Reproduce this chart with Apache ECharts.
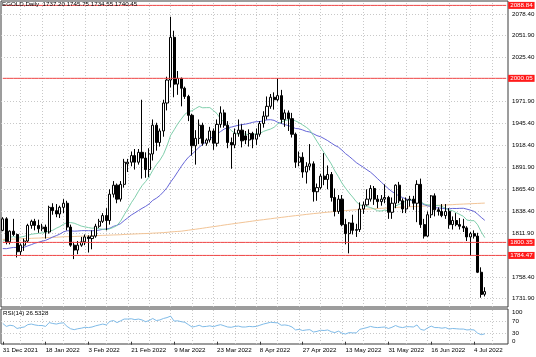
<!DOCTYPE html>
<html><head><meta charset="utf-8">
<script src="https://cdn.jsdelivr.net/npm/echarts@6/dist/echarts.min.js"></script>
<style>html,body{margin:0;padding:0;background:#fff}#c{width:536px;height:357px}</style>
</head><body><div id="c"></div>
<script>
const chartTitle = 'EGOLD,Daily  1737.20 1745.75 1734.55 1740.45';
const rsiTitle = 'RSI(14) 26.5328';
const tickLabels = ['31 Dec 2021','18 Jan 2022','3 Feb 2022','21 Feb 2022','9 Mar 2022','23 Mar 2022','8 Apr 2022','27 Apr 2022','13 May 2022','31 May 2022','16 Jun 2022','4 Jul 2022'];
const labelBars = [0,12,24,36,48,60,72,84,96,108,120,132];
const gridBars = [5,11,17,23,29,35,41,47,53,59,65,71,77,83,89,95,101,107,113,119,125,131,137];
const priceTicks = [2078.40,2051.90,2025.40,1971.90,1945.40,1918.40,1891.90,1865.40,1838.40,1811.90,1758.40,1731.90];
const priceLabels = [2078.40,2051.90,2025.40,1971.90,1945.40,1918.40,1891.90,1865.40,1838.40,1811.90,1758.40,1731.90];
const levelLines = [2088.84,2000.05,1800.35,1784.47];
const lastPrice = 1740.45;
const rsiLabels = [0,30,70,100];
const rsiLevels = [30,70];

const opens = [
1815,1829,1801,1814,1810,1789,1797,1802,1821,1826,
1821,1817,1819,1813,1843,1839,1835,1843,1848,1819,
1797,1791,1797,1801,1807,1805,1808,1820,1826,1833,
1827,1859,1870,1853,1871,1896,1898,1906,1898,1910,
1903,1889,1908,1943,1922,1936,1970,1998,2050,1993,
2000,1988,1978,1955,1918,1927,1943,1921,1925,1936,
1921,1944,1958,1943,1922,1919,1933,1937,1930,1925,
1933,1926,1932,1945,1954,1966,1977,1974,1979,1950,
1958,1951,1932,1898,1904,1886,1893,1896,1862,1867,
1881,1877,1883,1855,1838,1853,1822,1811,1824,1815,
1816,1841,1846,1853,1866,1853,1850,1853,1855,1837,
1848,1870,1851,1841,1852,1853,1848,1871,1822,1808,
1834,1857,1840,1838,1833,1838,1822,1827,1822,1820,
1818,1807,1811,1808,1764,1737.20];
const highs = [
1831,1831,1815,1829,1811,1799,1805,1823,1828,1829,
1828,1823,1822,1845,1848,1847,1845,1853,1851,1822,
1801,1802,1807,1810,1809,1815,1823,1829,1836,1842,
1865,1875,1872,1875,1902,1902,1911,1914,1914,1974,
1910,1915,1950,1946,1939,1974,2002,2075,2058,2009,
2001,1990,1980,1957,1937,1950,1946,1927,1941,1939,
1950,1966,1962,1948,1928,1939,1950,1944,1936,1938,
1935,1939,1948,1960,1978,1981,1983,2000,1986,1962,
1961,1958,1934,1911,1910,1898,1920,1899,1872,1884,
1909,1894,1886,1866,1858,1858,1829,1825,1834,1823,
1849,1850,1865,1870,1869,1858,1858,1871,1857,1855,
1871,1874,1854,1855,1857,1857,1876,1878,1829,1838,
1858,1860,1843,1847,1847,1842,1832,1836,1830,1829,
1820,1813,1815,1812,1770,1745.75];
const lows = [
1814,1798,1798,1808,1782,1785,1790,1800,1817,1815,
1812,1814,1805,1811,1834,1831,1830,1836,1815,1795,
1780,1786,1795,1797,1788,1792,1806,1818,1824,1815,
1822,1855,1848,1850,1867,1886,1893,1889,1895,1878,
1879,1880,1900,1912,1917,1929,1961,1989,1977,1980,
1966,1975,1948,1906,1895,1920,1918,1918,1922,1913,
1917,1940,1940,1915,1890,1915,1929,1916,1920,1917,
1915,1919,1929,1940,1950,1963,1962,1972,1945,1941,
1936,1928,1891,1893,1879,1872,1888,1850,1851,1865,
1870,1865,1850,1832,1835,1820,1798,1787,1810,1807,
1813,1835,1845,1850,1846,1842,1845,1848,1829,1829,
1842,1848,1836,1836,1844,1840,1825,1818,1805,1807,
1830,1832,1833,1831,1829,1817,1816,1820,1816,1813,
1802,1784,1805,1763,1733,1734.55];
const closes = [
1829,1801,1814,1810,1789,1797,1802,1821,1826,1821,
1817,1819,1813,1843,1839,1835,1843,1848,1819,1797,
1791,1797,1801,1807,1805,1808,1820,1826,1833,1827,
1859,1870,1853,1871,1898,1898,1906,1898,1910,1903,
1889,1908,1943,1922,1936,1970,1998,2050,1993,2000,
1988,1978,1955,1918,1927,1943,1921,1925,1936,1921,
1944,1958,1943,1922,1919,1933,1937,1924,1925,1933,
1926,1932,1945,1954,1966,1977,1974,1979,1950,1958,
1951,1932,1898,1904,1886,1893,1896,1862,1867,1881,
1877,1883,1855,1838,1853,1822,1811,1824,1815,1816,
1841,1846,1853,1866,1853,1850,1853,1855,1837,1848,
1870,1851,1841,1852,1853,1848,1871,1822,1808,1834,
1857,1840,1838,1833,1838,1822,1827,1822,1820,1818,
1807,1811,1808,1764,1737,1740.45];

const maFast = [
1801.8,1804.0,1806.6,1807.4,1806.4,1806.8,1807.7,1809.0,1810.2,1810.9,
1811.3,1811.9,1812.4,1814.4,1815.1,1817.6,1819.6,1822.4,1824.5,1824.5,
1823.7,1822.0,1820.2,1819.2,1818.4,1817.6,1818.1,1816.9,1816.4,1815.9,
1817.0,1818.6,1821.0,1826.3,1833.9,1841.1,1848.6,1855.1,1862.6,1869.4,
1874.4,1880.2,1888.1,1894.9,1900.4,1907.5,1917.9,1930.6,1937.4,1944.7,
1950.6,1956.3,1959.5,1960.6,1963.3,1965.8,1964.2,1964.4,1964.4,1960.9,
1957.1,1950.5,1946.9,1941.4,1936.4,1933.2,1931.9,1932.4,1932.2,1931.5,
1931.9,1932.4,1933.0,1935.4,1937.0,1938.3,1940.5,1944.6,1946.8,1948.6,
1949.6,1950.1,1948.2,1946.1,1943.3,1940.5,1937.0,1930.4,1923.4,1916.5,
1909.6,1902.7,1895.9,1887.4,1880.4,1872.5,1866.3,1860.6,1855.5,1849.9,
1846.0,1844.9,1843.9,1842.8,1841.1,1838.7,1838.6,1839.8,1838.6,1840.5,
1844.7,1846.6,1848.5,1851.1,1852.0,1852.1,1853.4,1850.3,1847.1,1845.9,
1846.2,1845.1,1845.2,1844.1,1841.9,1839.8,1838.8,1836.6,1834.3,1832.1,
1827.6,1826.8,1826.8,1821.8,1813.2,1806.1];
const maMid = [
1792.8,1792.7,1793.5,1794.2,1794.1,1794.0,1794.5,1796.1,1797.6,1799.4,
1800.5,1801.8,1802.8,1804.8,1806.9,1808.6,1810.5,1813.1,1814.5,1814.4,
1814.0,1814.2,1814.6,1814.7,1814.6,1814.5,1814.8,1815.3,1816.2,1816.6,
1817.6,1819.9,1821.2,1823.2,1826.9,1830.2,1833.7,1836.3,1839.1,1841.8,
1844.2,1847.2,1851.5,1854.1,1857.4,1861.9,1867.0,1873.8,1879.6,1886.3,
1892.9,1898.9,1904.1,1907.8,1911.8,1916.3,1919.7,1923.0,1926.4,1929.6,
1932.4,1935.3,1938.3,1940.0,1940.7,1941.9,1942.9,1943.8,1944.3,1945.3,
1946.5,1947.3,1947.4,1948.5,1949.5,1949.7,1948.9,1946.5,1945.1,1943.7,
1942.5,1940.9,1939.0,1938.6,1937.2,1935.5,1934.7,1932.6,1930.3,1929.0,
1926.7,1924.2,1921.3,1918.5,1916.3,1912.6,1908.4,1905.1,1901.4,1897.5,
1894.6,1891.8,1888.7,1885.8,1882.0,1877.8,1873.7,1869.6,1865.8,1862.2,
1859.5,1856.8,1854.9,1853.1,1852.0,1850.5,1849.7,1848.4,1846.4,1844.8,
1844.2,1842.7,1842.2,1842.0,1841.2,1841.2,1841.7,1841.6,1841.8,1841.9,
1840.8,1839.6,1838.1,1834.7,1830.8,1827.2];
const maSlow = [
1804.0,1804.1,1804.3,1804.4,1804.5,1804.7,1804.9,1805.0,1805.3,1805.5,
1805.6,1805.8,1806.0,1806.3,1806.5,1806.6,1806.9,1807.2,1807.3,1807.4,
1807.5,1807.7,1807.9,1808.1,1808.3,1808.4,1808.6,1808.7,1808.9,1809.0,
1809.2,1809.4,1809.5,1809.7,1810.0,1810.2,1810.4,1810.6,1810.8,1811.0,
1811.1,1811.3,1811.6,1811.8,1812.0,1812.3,1812.6,1813.0,1813.4,1813.7,
1814.0,1814.6,1815.2,1815.8,1816.4,1817.0,1817.6,1818.3,1818.9,1819.5,
1820.1,1820.8,1821.5,1822.1,1822.7,1823.3,1823.9,1824.5,1825.1,1825.7,
1826.3,1826.9,1827.5,1828.0,1828.6,1829.1,1829.7,1830.2,1830.8,1831.3,
1831.9,1832.4,1832.9,1833.4,1833.9,1834.4,1834.9,1835.4,1835.8,1836.3,
1836.7,1837.1,1837.5,1837.9,1838.3,1838.7,1839.1,1839.4,1839.8,1840.1,
1840.3,1840.6,1840.8,1841.1,1841.3,1841.6,1841.8,1842.1,1842.3,1842.6,
1842.8,1843.1,1843.3,1843.5,1843.8,1844.0,1844.2,1844.4,1844.6,1844.9,
1845.1,1845.3,1845.5,1845.7,1845.9,1846.1,1846.3,1846.6,1846.8,1847.0,
1847.2,1847.4,1847.6,1847.8,1848.0,1848.2];
const rsi = [
62,52,56,54,45,48,50,58,60,57,
55,55,52,65,62,60,63,64,52,44,
41,44,46,49,48,50,54,57,60,57,
69,72,65,71,77,77,78,75,77,74,
68,72,79,72,74,79,82,87,70,71,
68,66,58,50,52,56,51,52,54,51,
55,58,54,50,49,52,53,50,50,52,
51,52,56,60,63,66,65,64,56,57,
55,50,40,42,38,40,41,33,35,39,
38,40,34,31,36,29,26,31,30,30,
42,45,48,52,49,48,49,50,45,49,
55,50,48,51,51,50,57,42,39,47,
53,48,48,46,48,43,45,44,43,43,
40,41,40,29,24,26.53];

const slotCount = 142;
const categories = [];
for (let i = 0; i < slotCount; i++) categories.push(String(i));
const candles = opens.map((o, i) => [o, closes[i], lows[i], highs[i]]);

const FONT = 'Liberation Sans';
const FS = 6.2;
const gridStyle = { color: '#c8c8c8', width: 1, type: [1, 2] };
const isLabelBar = (idx) => labelBars.indexOf(idx) >= 0;
const boxLabel = (bg) => ({ show: true, position: 'end', distance: 1,
  formatter: (p) => Number(p.value).toFixed(2),
  backgroundColor: bg, color: '#fff', padding: [1, 2, 0, 2], fontFamily: FONT, fontSize: FS });

const levelSeries = levelLines.map((lv, k) => ({
  type: 'line', name: 'level' + k, xAxisIndex: 0, yAxisIndex: 0, z: 7,
  data: categories.map(() => lv),
  showSymbol: false, silent: true, animation: false,
  lineStyle: { color: '#ee4444', width: 1, type: 'solid' },
  endLabel: { show: true, distance: 2, formatter: (p) => Number(p.value).toFixed(2),
    backgroundColor: '#ff1a1a', color: '#fff', padding: [1, 2, 0, 2], fontFamily: FONT, fontSize: FS }
}));

const chart = echarts.init(document.getElementById('c'), null, { renderer: 'canvas' });
chart.setOption({
  animation: false,
  backgroundColor: '#ffffff',
  textStyle: { fontFamily: FONT },
  title: [
    { text: chartTitle, left: 2, top: 1, padding: 0, z: 8,
      textStyle: { fontFamily: FONT, fontSize: FS, fontWeight: 'normal', color: '#000' } },
    { text: rsiTitle, left: 3, top: 310, padding: 0, z: 8,
      textStyle: { fontFamily: FONT, fontSize: FS, fontWeight: 'normal', color: '#000' } }
  ],
  grid: [
    { left: 1, top: 1, width: 507, height: 306, show: true, borderColor: '#3a3a3a', borderWidth: 1, backgroundColor: '#fff', containLabel: false, outerBoundsMode: 'none' },
    { left: 1, top: 309, width: 507, height: 35, show: true, borderColor: '#3a3a3a', borderWidth: 1, backgroundColor: '#fff', containLabel: false, outerBoundsMode: 'none' }
  ],
  xAxis: [
    { type: 'category', gridIndex: 0, data: categories, boundaryGap: true,
      axisLine: { show: false }, axisTick: { show: false }, axisLabel: { show: false }, splitLine: { show: false } },
    { type: 'category', gridIndex: 1, data: categories, boundaryGap: true,
      axisLine: { show: false },
      axisTick: { show: true, alignWithLabel: true, length: 3, interval: (i) => isLabelBar(i), lineStyle: { color: '#3a3a3a' } },
      axisLabel: { show: true, interval: (i) => isLabelBar(i), align: 'left', margin: 3,
        fontFamily: FONT, fontSize: FS, color: '#000',
        formatter: (v) => tickLabels[labelBars.indexOf(Number(v))] },
      splitLine: { show: false } }
  ],
  yAxis: [
    { type: 'value', gridIndex: 0, position: 'right', min: 1721.7, max: 2094.2, scale: true,
      axisLine: { show: false }, axisTick: { show: false }, splitLine: { show: false },
      axisLabel: { show: true, customValues: priceLabels, margin: 4, fontFamily: FONT, fontSize: FS, color: '#000',
        formatter: (v) => Number(v).toFixed(2) } },
    { type: 'value', gridIndex: 1, position: 'right', min: -7.8, max: 111.2,
      axisLine: { show: false }, axisTick: { show: false }, splitLine: { show: false },
      axisLabel: { show: true, customValues: rsiLabels, margin: 4, fontFamily: FONT, fontSize: FS, color: '#000',
        formatter: (v) => String(v) } }
  ],
  series: [
    { type: 'line', name: 'maSlow', xAxisIndex: 0, yAxisIndex: 0, data: maSlow, z: 1,
      showSymbol: false, silent: true, lineStyle: { color: '#f2c496', width: 1 },
      markLine: { silent: true, symbol: ['none', 'none'], z: 1, label: { show: false },
        lineStyle: gridStyle, animation: false,
        data: gridBars.map(b => ({ xAxis: b })).concat(priceTicks.map(v => ({ yAxis: v }))) } },
    { type: 'line', name: 'maMid', xAxisIndex: 0, yAxisIndex: 0, data: maMid, z: 2,
      showSymbol: false, silent: true, lineStyle: { color: '#6666d8', width: 1 },
      markLine: { silent: true, symbol: ['none', 'none'], z: 7, animation: false,
        lineStyle: { color: '#000', opacity: 0, width: 1, type: 'solid' },
        label: boxLabel('#000'),
        data: [{ yAxis: lastPrice }] } },
    { type: 'line', name: 'maFast', xAxisIndex: 0, yAxisIndex: 0, data: maFast, z: 2,
      showSymbol: false, silent: true, lineStyle: { color: '#80cfac', width: 1 } },
    { type: 'candlestick', xAxisIndex: 0, yAxisIndex: 0, data: candles, z: 3, barWidth: 2.6,
      itemStyle: { color: '#ffffff', color0: '#000000', borderColor: '#000000', borderColor0: '#000000', borderColorDoji: '#000000', borderWidth: 1 } },
    { type: 'line', name: 'rsi', xAxisIndex: 1, yAxisIndex: 1, data: rsi, z: 3,
      showSymbol: false, silent: true, lineStyle: { color: '#7fbbe8', width: 1 },
      markLine: { silent: true, symbol: ['none', 'none'], z: 1, label: { show: false },
        lineStyle: gridStyle, animation: false,
        data: gridBars.map(b => ({ xAxis: b })).concat(rsiLevels.map(v => ({ yAxis: v }))) } }
  ].concat(levelSeries)
});
</script>
</body></html>
